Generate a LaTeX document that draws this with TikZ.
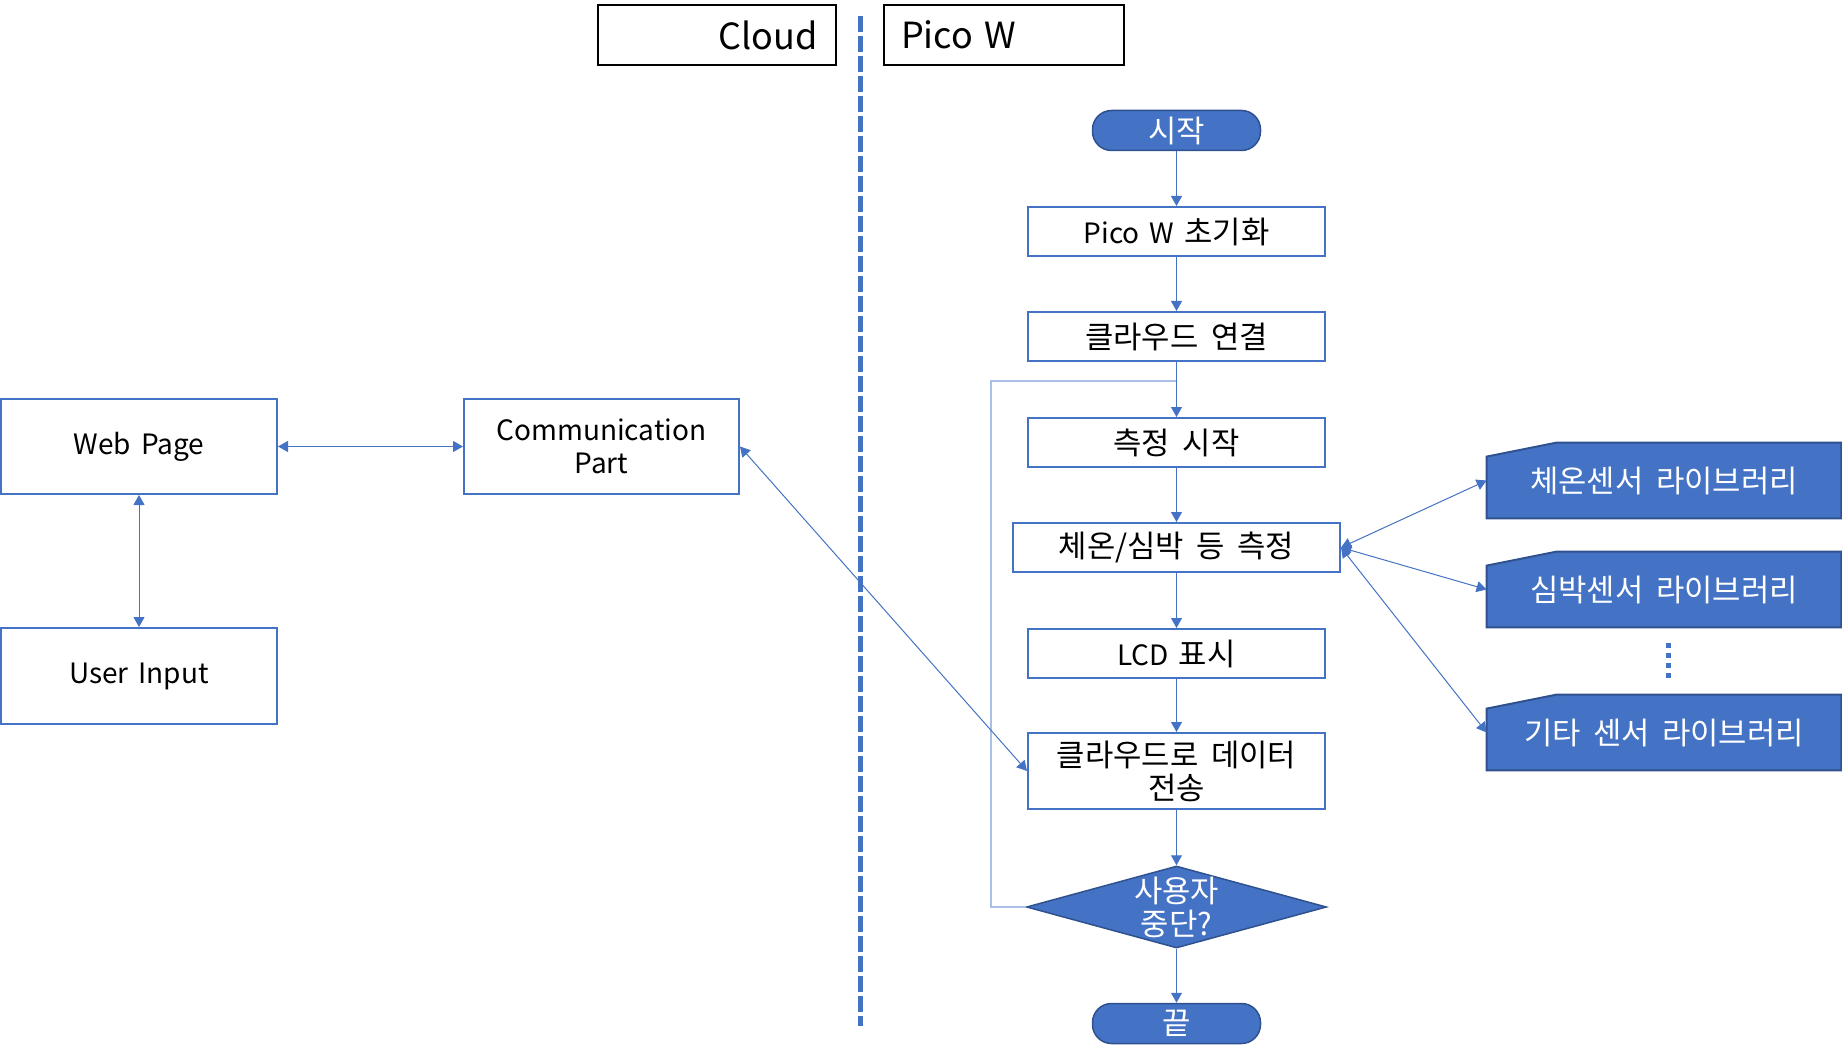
\documentclass[tikz,border=0pt]{standalone}
\usepackage{fontspec}
\setmainfont{Noto Sans CJK KR}[WordSpace=1.6]
\newfontfamily\kr{Noto Sans CJK KR}[Scale=1.1,WordSpace=1.8]
\usetikzlibrary{arrows.meta,shapes.geometric,backgrounds}
\definecolor{pblue}{HTML}{4472C4}
\definecolor{pdark}{HTML}{2F528F}
\definecolor{plight}{HTML}{A9BFE6}
\tikzset{
	nodetext/.style={inner sep=0pt, align=center, font=\fontsize{14}{16.5}\selectfont},
	krtext/.style={font=\fontsize{14}{16.5}\kr},
	flowbox/.style={nodetext, draw=pblue, line width=1pt, minimum width=148.5pt, minimum height=24.5pt},
	termbox/.style={nodetext, krtext, draw=pdark, fill=pblue, text=white, line width=0.75pt, rounded corners=9.5pt, minimum width=84pt, minimum height=20pt},
	decbox/.style={diamond, draw=pdark, fill=pblue, line width=0.75pt, minimum width=150pt, minimum height=41pt, inner sep=0pt},
	libbox/.style={nodetext, krtext, text=white, minimum width=177pt, minimum height=37.5pt},
	libshape/.style={draw=pdark, fill=pblue, line width=1pt},
	hdrbox/.style={draw=black, line width=1pt, minimum width=119pt, minimum height=30pt, inner sep=0pt, font=\fontsize{18}{20}\selectfont},
	flowline/.style={draw=pblue, line width=0.5pt, -{Triangle[width=5.5pt,length=5pt]}},
	bothline/.style={draw=pblue, line width=0.5pt, {Triangle[width=5.5pt,length=5pt]}-{Triangle[width=5.5pt,length=5pt]}},
	loopline/.style={draw=plight, line width=1pt},
	divline/.style={draw=pblue, line width=2.5pt, dash pattern=on 8pt off 2pt},
	dotline/.style={draw=pblue, line width=2.5pt, dash pattern=on 2.5pt off 2.5pt},
}
\begin{document}
\begin{tikzpicture}[x=0.5pt,y=-0.5pt]
	\useasboundingbox (0,0) rectangle (1842,1059);
	\node[hdrbox, inner xsep=9.25pt, text width=100.5pt, align=right] (cloudhdr) at (717,35) {Cloud};
	\node[hdrbox, inner xsep=8.5pt, text width=103pt, align=left] (picohdr) at (1004,35) {Pico W};
	\coordinate (divtop) at (860,16);
	\coordinate (divbot) at (860,1026);
	\draw[divline] (divtop) -- (divbot);
	\node[flowbox, minimum width=138pt, minimum height=47.5pt] (web) at (139,446.5) {Web Page};
	\node[flowbox, minimum width=138pt, minimum height=48pt] (user) at (139,676) {User Input};
	\node[flowbox, minimum width=137.5pt, minimum height=47.5pt] (comm) at (601.5,446.5) {Communication\\Part};
	\node[termbox] (start) at (1176.5,130.5) {시작};
	\node[flowbox] (init) at (1176.5,231.5) {Pico W {\kr 초기화}};
	\node[flowbox, krtext] (conn) at (1176.5,336.5) {클라우드 연결};
	\node[flowbox, krtext] (mstart) at (1176.5,442.5) {측정 시작};
	\node[flowbox, krtext, minimum width=163.5pt] (meas) at (1176.5,547.5) {체온/심박 등 측정};
	\node[flowbox] (lcd) at (1176.5,653.5) {LCD {\kr 표시}};
	\node[flowbox, krtext, minimum height=38pt] (send) at (1176.5,771) {클라우드로 데이터\\전송};
	\node[decbox, label={[nodetext, krtext, text=white]center:{사용자\\중단?}}] (dec) at (1176.5,907) {};
	\node[termbox] (stop) at (1176.5,1023.5) {끝};
	\node[libbox] (lib1) at (1664,480.5) {체온센서 라이브러리};
	\node[libbox] (lib2) at (1664,589.5) {심박센서 라이브러리};
	\node[libbox] (lib3) at (1664,732.5) {기타 센서 라이브러리};
	\begin{scope}[on background layer]
		\foreach \n in {lib1,lib2,lib3}
			\filldraw[libshape] ([yshift=-7pt]\n.north west) -- ([xshift=35pt]\n.north west) -- (\n.north east) -- (\n.south east) -- (\n.south west) -- cycle;
	\end{scope}
	\coordinate (dottop) at (1668,643);
	\coordinate (dotbot) at (1668,678);
	\draw[dotline] (dottop) -- (dotbot);
	\coordinate (loopc) at (991,381);
	\draw[loopline] (dec.west) -| (loopc) -- (loopc -| conn.south);
	\foreach \a/\b in {start/init,init/conn,conn/mstart,mstart/meas,meas/lcd,lcd/send,send/dec,dec/stop}
		\draw[flowline] (\a) -- (\b);
	\draw[bothline] (web) -- (comm);
	\draw[bothline] (web) -- (user);
	\draw[bothline] (comm.east) -- (send.west);
	\draw[bothline] (meas.east) -- (lib1.west);
	\draw[bothline] (meas.east) -- (lib2.west);
	\draw[bothline] (meas.east) -- (lib3.west);
\end{tikzpicture}
\end{document}
